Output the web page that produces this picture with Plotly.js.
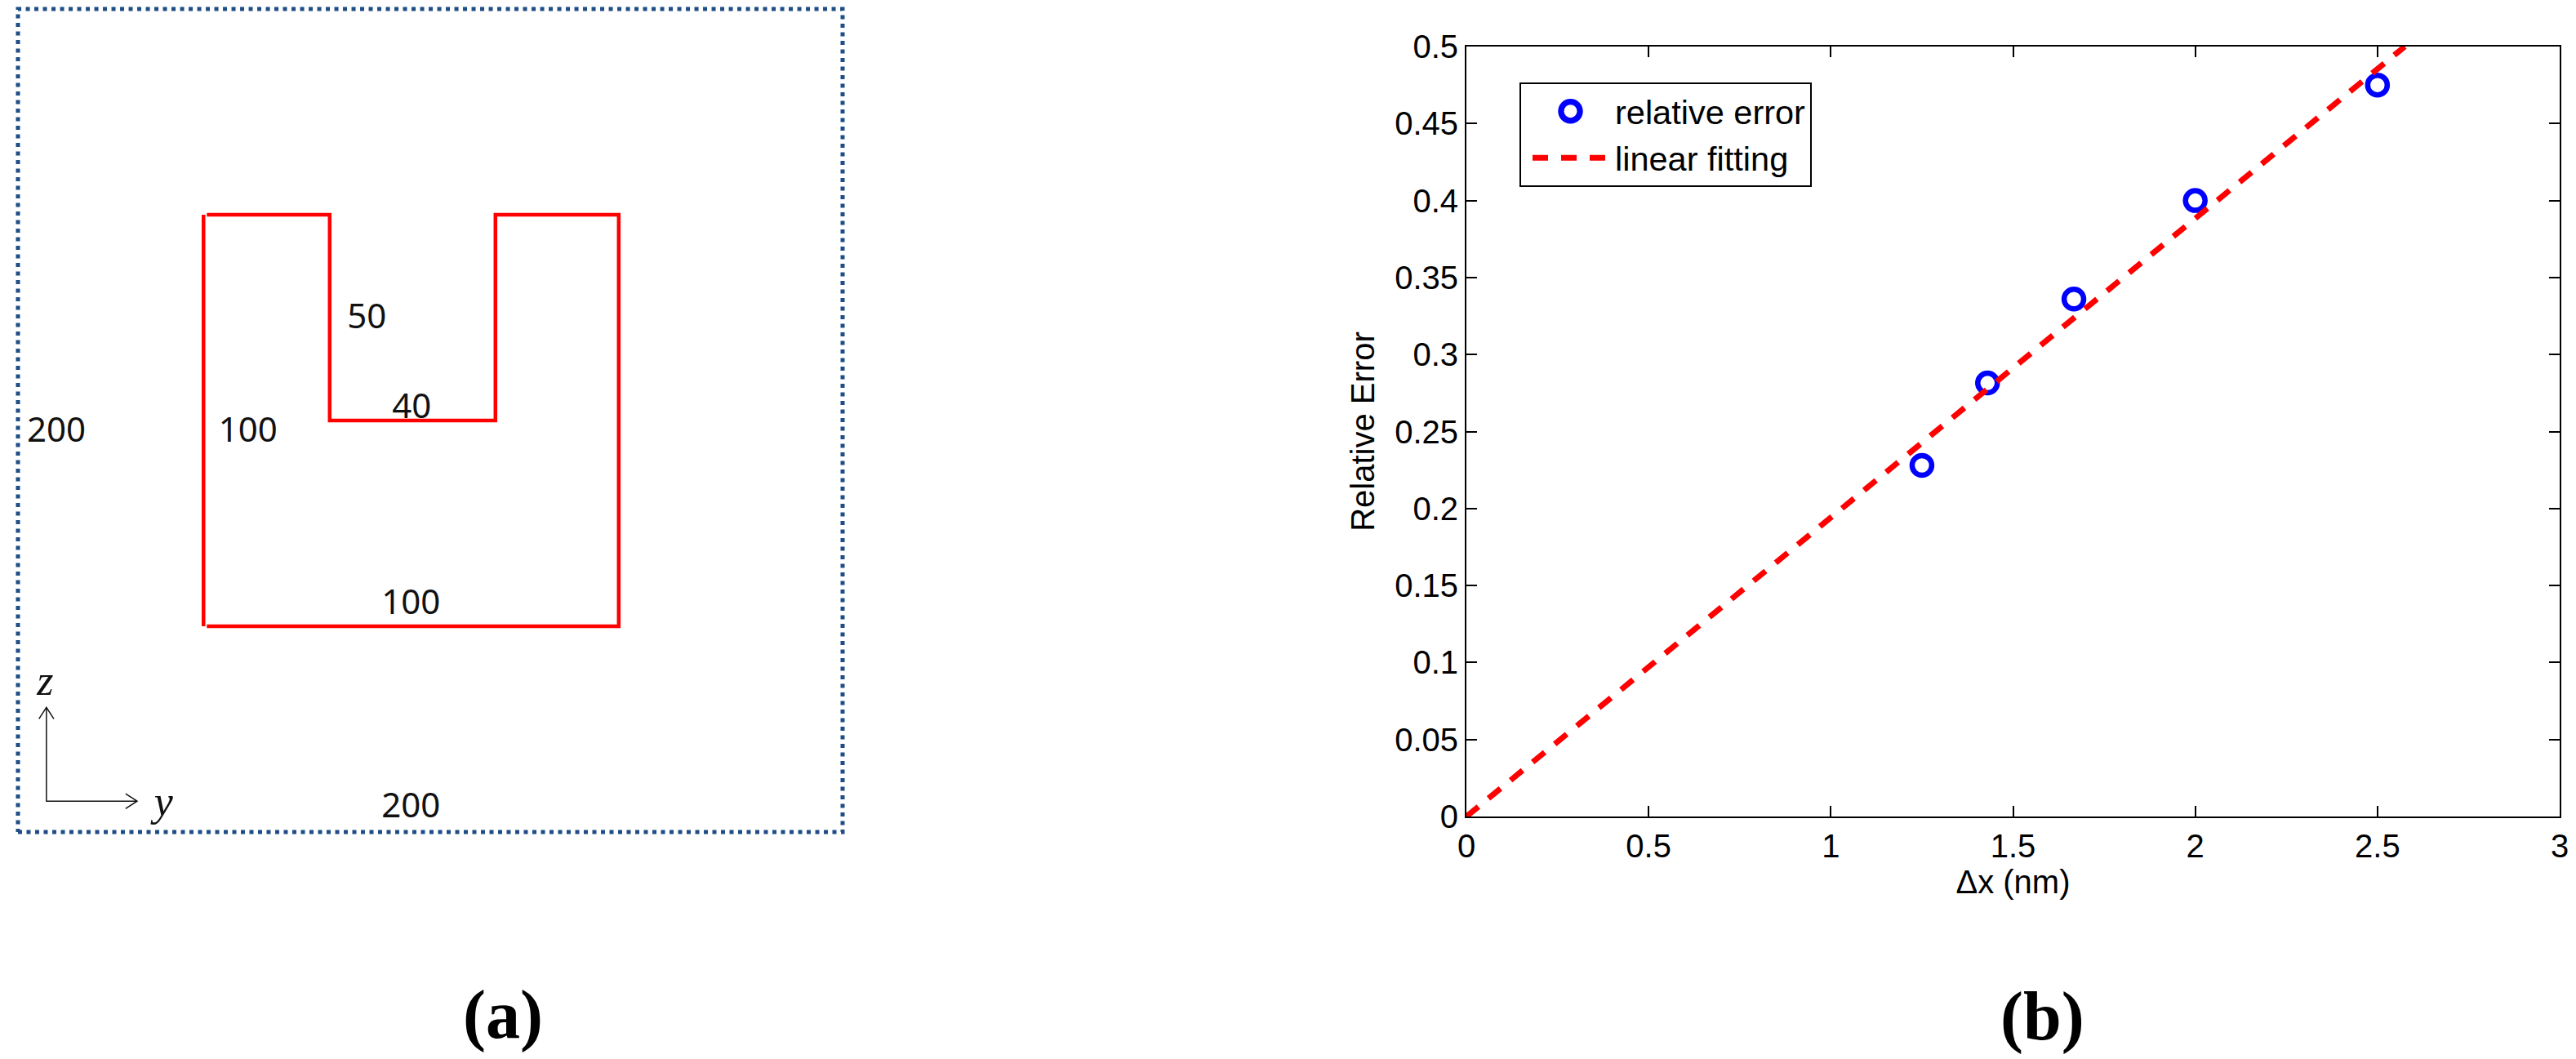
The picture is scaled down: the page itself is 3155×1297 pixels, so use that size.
<!DOCTYPE html>
<html>
<head>
<meta charset="utf-8">
<script src="https://cdn.plot.ly/plotly-3.0.1.min.js"></script>
<style>
  html, body { margin: 0; padding: 0; background: #fff; }
</style>
</head>
<body>
<div id="wykres"></div>
<script>
// Panel (a): obrys przekroju i ramka, w jednostkach rysunku
const ramkaY = [0, 200, 200, 0, 0];
const ramkaZ = [0, 0, 200, 200, 0];
const obrysY = [45.8, 75.6, 75.6, 115.8, 115.8, 145.7, 145.7, 45.8, null, 45, 45];
const obrysZ = [150, 150, 100, 100, 150, 150, 50, 50, null, 50, 150];
const wymiary = ['200', '100', '50', '40', '100', '200'];
const wymiaryY = [9.3, 55.8, 84.6, 95.5, 95.3, 95.3];
const wymiaryZ = [97, 97, 124.6, 102.7, 55, 5.7];
const strzalkiY = [5.1, 6.9, 8.7, 6.9, 6.9, 28.9, 26.1, 28.9, 26.1];
const strzalkiZ = [27.5, 30.3, 27.5, 30.3, 7.5, 7.5, 9.3, 7.5, 5.7];
const osieOpisy = ['<i>z</i>', '<i>y</i>'];
const osieOpisyY = [6.6, 35.3];
const osieOpisyZ = [36, 6.6];

// Panel (b): bledy wzgledne i prosta dopasowana
const deltaX = [1.25, 1.43, 1.667, 2, 2.5];
const bladWzgledny = [0.228, 0.2815, 0.336, 0.4, 0.475];
const prostaX = [0, 2.575];
const prostaY = [0, 0.5];
const tickiX = [0, 0.5, 1, 1.5, 2, 2.5, 3];
const opisyX = ['0', '0.5', '1', '1.5', '2', '2.5', '3'];
const tickiY = [0, 0.05, 0.1, 0.15, 0.2, 0.25, 0.3, 0.35, 0.4, 0.45, 0.5];
const opisyY = ['0', '0.05', '0.1', '0.15', '0.2', '0.25', '0.3', '0.35', '0.4', '0.45', '0.5'];

const W = 3155;
const H = 1297;
const czcionkaB = 'Liberation Sans, Arial, sans-serif';
const czcionkaSzeryf = 'Liberation Serif, Times New Roman, serif';

const trace = (opcje) => Object.assign({ type: 'scatter', hoverinfo: 'skip', showlegend: false }, opcje);

const data = [
  trace({
    x: ramkaY, y: ramkaZ, xaxis: 'x2', yaxis: 'y2', mode: 'lines',
    line: { color: '#1f4e86', width: 5, dash: '5px,5.5px' }
  }),
  trace({
    x: obrysY, y: obrysZ, xaxis: 'x2', yaxis: 'y2', mode: 'lines',
    line: { color: '#ff0000', width: 4.5 }
  }),
  // uklad wspolrzednych y-z ze strzalkami
  trace({
    x: strzalkiY, y: strzalkiZ, xaxis: 'x2', yaxis: 'y2', mode: 'lines',
    line: { color: '#111111', width: 1.5 }
  }),
  trace({
    x: wymiaryY, y: wymiaryZ, text: wymiary, xaxis: 'x2', yaxis: 'y2', mode: 'text',
    textposition: 'middle center',
    textfont: { family: 'Noto Sans, sans-serif', size: 42, color: '#111111' }
  }),
  trace({
    x: osieOpisyY, y: osieOpisyZ, text: osieOpisy, xaxis: 'x2', yaxis: 'y2', mode: 'text',
    textposition: 'middle center',
    textfont: { family: czcionkaSzeryf, size: 52, color: '#111111' }
  }),
  trace({
    name: 'relative error', x: deltaX, y: bladWzgledny, mode: 'markers', showlegend: true,
    marker: { symbol: 'circle-open', size: 24, color: '#0000ff', line: { width: 6.5, color: '#0000ff' } }
  }),
  trace({
    name: 'linear fitting', x: prostaX, y: prostaY, mode: 'lines', showlegend: true,
    line: { color: '#ff0000', width: 7, dash: '19px,16px' }
  })
];

const osB = {
  showgrid: false, zeroline: false, showline: true, mirror: 'ticks',
  linecolor: '#000', linewidth: 2, ticks: 'inside', ticklen: 13, tickwidth: 2, tickcolor: '#000',
  tickfont: { family: czcionkaB, size: 40, color: '#000' }
};

const layout = {
  width: W,
  height: H,
  margin: { l: 0, r: 0, t: 0, b: 0 },
  paper_bgcolor: '#fff',
  plot_bgcolor: 'rgba(0,0,0,0)',
  xaxis: Object.assign({}, osB, {
    domain: [1796 / W, 3135 / W], range: [0, 3], anchor: 'y',
    tickvals: tickiX, ticktext: opisyX,
    title: { text: 'Δx (nm)', font: { family: czcionkaB, size: 40, color: '#000' }, standoff: 8 }
  }),
  yaxis: Object.assign({}, osB, {
    domain: [1 - 1000 / H, 1 - 57 / H], range: [0, 0.5], anchor: 'x',
    tickvals: tickiY, ticktext: opisyY,
    title: { text: 'Relative Error', font: { family: czcionkaB, size: 40, color: '#000' }, standoff: 12 }
  }),
  xaxis2: { domain: [11.9 / W, 1042.1 / W], range: [-2, 202], visible: false, anchor: 'y2' },
  yaxis2: { domain: [1 - 1029.1 / H, 1 - 0.9 / H], range: [-2, 202], visible: false, anchor: 'x2' },
  legend: {
    x: 1861 / W, y: 1 - 100.7 / H, xanchor: 'left', yanchor: 'top',
    bgcolor: '#fff', bordercolor: '#000', borderwidth: 2,
    itemwidth: 105, entrywidth: 278, entrywidthmode: 'pixels',
    font: { family: czcionkaB, size: 41.5, color: '#000' }
  },
  annotations: [
    { text: '<b>(a)</b>', xref: 'paper', yref: 'paper', x: 616 / W, y: 1 - 1243 / H, showarrow: false,
      xanchor: 'center', yanchor: 'middle',
      font: { family: czcionkaSzeryf, size: 84, color: '#000' } },
    { text: '<b>(b)</b>', xref: 'paper', yref: 'paper', x: 2501 / W, y: 1 - 1245 / H, showarrow: false,
      xanchor: 'center', yanchor: 'middle',
      font: { family: czcionkaSzeryf, size: 84, color: '#000' } }
  ]
};

const wykres = document.getElementById('wykres');

// legenda Plotly obcina rozmiar markera i linii, wiec klucze trzeba poprawic recznie
const poprawKlucze = () => {
  wykres.querySelectorAll('.legend .scatterpts').forEach(p => {
    const t = p.getAttribute('transform') || '';
    if (!t.includes('scale')) p.setAttribute('transform', 'translate(3,0) ' + t + ' scale(1.45)');
  });
  wykres.querySelectorAll('.legend .js-line').forEach(p => {
    p.style.strokeWidth = '7px';
    p.setAttribute('transform', 'translate(9,0)');
  });
};

Plotly.newPlot(wykres, data, layout, { displayModeBar: false, staticPlot: true }).then(poprawKlucze);
</script>
</body>
</html>
